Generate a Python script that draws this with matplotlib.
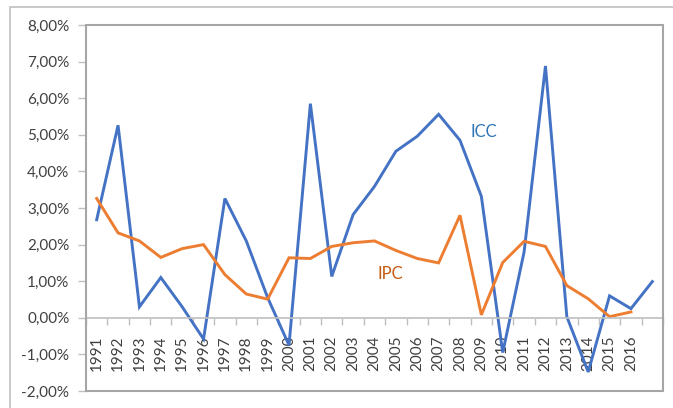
import numpy as np
import matplotlib
matplotlib.use("Agg")
import matplotlib.pyplot as plt
from matplotlib.patches import Rectangle
from matplotlib.ticker import FuncFormatter, FixedLocator

plt.rcParams['font.family'] = ['Lato', 'DejaVu Sans']

# categorias (la ultima no tiene rotulo)
years = [str(y) for y in range(1991, 2017)] + ['']

# valores en %
icc = [2.68, 5.26, 0.30, 1.10, 0.30, -0.58, 3.26, 2.10, 0.55, -0.75,
       5.85, 1.13, 2.82, 3.59, 4.55, 4.96, 5.56, 4.85, 3.32, -0.95,
       1.80, 6.88, 0.03, -1.48, 0.60, 0.25, 0.99]
ipc = [3.26, 2.32, 2.10, 1.65, 1.89, 2.00, 1.18, 0.65, 0.51, 1.64,
       1.62, 1.95, 2.05, 2.10, 1.84, 1.62, 1.50, 2.80, 0.08, 1.51,
       2.09, 1.95, 0.88, 0.52, 0.03, 0.16]

blue = '#4472C4'
orange = '#ED7D31'
grey = '#A6A6A6'
txt = '#404040'

fig = plt.figure(figsize=(6.73, 4.08), dpi=100)
# borde exterior del grafico
fig.patches.append(Rectangle((10 / 673, -0.1), 1.2, 1.1 - 7 / 408, transform=fig.transFigure,
                             fill=False, edgecolor='#BFBFBF', linewidth=1.2))

ax = fig.add_axes([86 / 673, 1 - 391 / 408, 577 / 673, 366 / 408])
x = np.arange(len(years))
ax.plot(x, np.array(icc) / 100, color=blue, linewidth=2.1, solid_joinstyle='miter')
ax.plot(x[:len(ipc)], np.array(ipc) / 100, color=orange, linewidth=2.1, solid_joinstyle='miter')

ax.set_xlim(-0.5, len(years) - 0.5)
ax.set_ylim(-0.02, 0.08)

# eje horizontal en 0
for s in ['top', 'right', 'left']:
    ax.spines[s].set_visible(False)
ax.spines['bottom'].set_position(('data', 0))
ax.spines['bottom'].set_color('#BFBFBF')
ax.spines['bottom'].set_linewidth(1.2)
ax.add_patch(Rectangle((0, 0), 1, 1, transform=ax.transAxes, fill=False,
                       edgecolor=grey, linewidth=1.5, clip_on=False, zorder=5))

ax.xaxis.set_major_locator(FixedLocator(x))
ax.set_xticklabels(years, rotation=90, fontsize=11, color=txt)
ax.xaxis.set_minor_locator(FixedLocator(np.arange(-0.5, len(years), 1)))
ax.tick_params(axis='x', which='major', length=0, pad=13)
ax.tick_params(axis='x', which='minor', length=5, color='#BFBFBF', width=1)

ax.set_yticks(np.arange(-0.02, 0.0801, 0.01))
ax.yaxis.set_major_formatter(FuncFormatter(lambda v, p: ('%.2f%%' % (v * 100)).replace('.', ',').replace('-0,00', '0,00')))
ax.tick_params(axis='y', length=6, color='#BFBFBF', width=1, labelsize=11, labelcolor=txt, pad=6)

ax.text(18.1, 0.0507, 'ICC', color='#2E75B6', fontsize=12, ha='center', va='center')
ax.text(13.72, 0.012, 'IPC', color='#C55A11', fontsize=12, ha='center', va='center')

fig.savefig('out.png', dpi=100)
